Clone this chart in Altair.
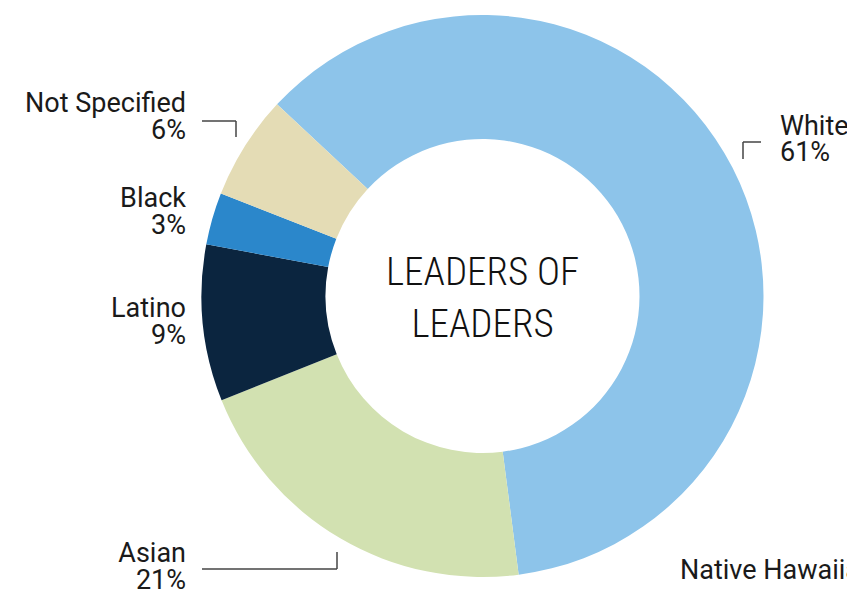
import altair as alt
import pandas as pd

# ---- data ----
groups = ["White", "Native Hawaiian", "Asian", "Latino", "Black", "Not Specified"]
shares = [61, 0, 21, 9, 3, 6]
colors = ["#8DC4EA", "#8DC4EA", "#D2E1B1", "#0B253F", "#2B87CB", "#E4DCB5"]

label_groups = ["Not Specified", "Black", "Latino", "Asian", "White", "Native Hawaiian"]
label_texts = ["6%", "3%", "9%", "21%", "61%", ""]

center_lines = ["LEADERS OF", "LEADERS"]

W, H = 839, 582
CX, CY = 474.5, 288
R_OUT, R_IN = 281, 157
START = 5.463  # radians, clockwise from 12 o'clock

df = pd.DataFrame({"group": groups, "share": shares, "order": list(range(len(groups)))})

donut = alt.Chart(df).mark_arc(outerRadius=R_OUT, innerRadius=R_IN, stroke=None).encode(
    theta=alt.Theta("share:Q", stack=True, scale=alt.Scale(range=[START, START + 6.283185])),
    color=alt.Color("group:N", scale=alt.Scale(domain=groups, range=colors), legend=None),
    order=alt.Order("order:Q"),
    x=alt.value(CX),
    y=alt.value(CY),
)

# label placement (annotation layout)
lab = pd.DataFrame({
    "name": label_groups,
    "pct": label_texts,
    "x": [178, 178, 178, 178, 772, 672],
    "y": [104, 199, 309, 554, 127, 571],
    "align": ["right", "right", "right", "right", "left", "left"],
})

font = "Roboto"
fs = 27
txt_common = dict(font=font, fontSize=fs, color="#1a1a1a", baseline="alphabetic")

lab_r = lab[lab["align"] == "right"]
lab_l = lab[lab["align"] == "left"]

names_r = alt.Chart(lab_r).mark_text(align="right", **txt_common).encode(
    x=alt.X("x:Q", scale=None), y=alt.Y("y:Q", scale=None), text="name:N")
pcts_r = alt.Chart(lab_r).mark_text(align="right", dy=27, **txt_common).encode(
    x=alt.X("x:Q", scale=None), y=alt.Y("y:Q", scale=None), text="pct:N")
names_l = alt.Chart(lab_l).mark_text(align="left", **txt_common).encode(
    x=alt.X("x:Q", scale=None), y=alt.Y("y:Q", scale=None), text="name:N")
pcts_l = alt.Chart(lab_l).mark_text(align="left", dy=26, **txt_common).encode(
    x=alt.X("x:Q", scale=None), y=alt.Y("y:Q", scale=None), text="pct:N")

# leader lines
seg = pd.DataFrame({
    "x": [194, 228, 194, 329, 735, 735],
    "x2": [228, 228, 329, 329, 753, 735],
    "y": [113, 113, 561, 561, 134, 134],
    "y2": [113, 129, 561, 544, 134, 151],
})
leaders = alt.Chart(seg).mark_rule(color="#444444", strokeWidth=1.5).encode(
    x=alt.X("x:Q", scale=None), x2="x2:Q", y=alt.Y("y:Q", scale=None), y2="y2:Q")

cdf = pd.DataFrame({"t": center_lines, "y": [277, 329]})
center = alt.Chart(cdf).mark_text(
    font="Roboto Condensed, Open Sans Condensed, Noto Sans Condensed, DejaVu Sans Condensed, Roboto",
    fontSize=39, fontWeight=300, color="#111111", align="center", baseline="alphabetic"
).encode(x=alt.value(CX), y=alt.Y("y:Q", scale=None), text="t:N")

chart = alt.layer(donut, leaders, names_r, pcts_r, names_l, pcts_l, center).properties(
    width=W, height=H, padding=0, autosize=alt.AutoSizeParams(type="none")
).configure_view(stroke=None)

chart.save("out.html", embed_options={"renderer": "svg", "actions": False})
